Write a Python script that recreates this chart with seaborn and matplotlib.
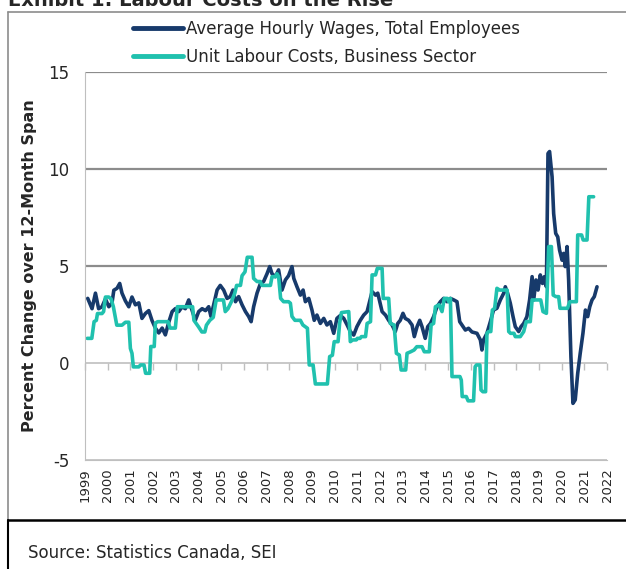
import pandas as pd
import matplotlib.pyplot as plt
import seaborn as sns
from matplotlib.lines import Line2D

# values (decimal year, % change over 12-month span)
wage_years = [
    1999.12, 1999.31, 1999.46, 1999.60, 1999.75, 1999.90, 2000.05, 2000.19, 2000.27, 2000.41,
    2000.53, 2000.63, 2000.78, 2000.93, 2001.07, 2001.22, 2001.37, 2001.51, 2001.66, 2001.81,
    2001.95, 2002.10, 2002.25, 2002.40, 2002.54, 2002.69, 2002.84, 2002.98, 2003.13, 2003.28,
    2003.42, 2003.57, 2003.72, 2003.86, 2004.01, 2004.16, 2004.31, 2004.45, 2004.55, 2004.67,
    2004.82, 2004.96, 2005.11, 2005.26, 2005.40, 2005.52, 2005.63, 2005.77, 2005.92, 2006.07,
    2006.21, 2006.32, 2006.43, 2006.58, 2006.73, 2006.87, 2007.02, 2007.14, 2007.24, 2007.39,
    2007.53, 2007.68, 2007.83, 2007.97, 2008.12, 2008.20, 2008.34, 2008.49, 2008.61, 2008.71,
    2008.86, 2009.00, 2009.10, 2009.22, 2009.37, 2009.52, 2009.66, 2009.81, 2009.96, 2010.10,
    2010.25, 2010.40, 2010.55, 2010.69, 2010.84, 2010.98, 2011.13, 2011.28, 2011.43, 2011.54,
    2011.65, 2011.80, 2011.90, 2011.99, 2012.09, 2012.24, 2012.38, 2012.53, 2012.67, 2012.78,
    2012.89, 2013.01, 2013.11, 2013.26, 2013.41, 2013.51, 2013.63, 2013.75, 2013.85, 2013.99,
    2014.10, 2014.22, 2014.36, 2014.51, 2014.66, 2014.80, 2014.95, 2015.10, 2015.25, 2015.39,
    2015.51, 2015.61, 2015.76, 2015.90, 2016.05, 2016.27, 2016.42, 2016.49, 2016.56, 2016.71,
    2016.86, 2017.00, 2017.15, 2017.30, 2017.45, 2017.52, 2017.62, 2017.74, 2017.86, 2017.96,
    2018.11, 2018.21, 2018.33, 2018.47, 2018.59, 2018.70, 2018.77, 2018.87, 2018.96, 2019.06,
    2019.16, 2019.24, 2019.33, 2019.40, 2019.47, 2019.58, 2019.65, 2019.74, 2019.83, 2019.91,
    2020.02, 2020.09, 2020.16, 2020.24, 2020.31, 2020.41, 2020.50, 2020.60, 2020.71, 2020.82,
    2020.94, 2021.05, 2021.15, 2021.24, 2021.34, 2021.44, 2021.56,
]
wage_values = [
    3.33, 2.80, 3.60, 2.80, 2.90, 3.30, 2.90, 3.10, 3.75, 3.85,
    4.10, 3.60, 3.20, 2.90, 3.40, 3.00, 3.10, 2.30, 2.55, 2.70,
    2.20, 1.80, 1.55, 1.80, 1.45, 2.10, 2.65, 2.80, 2.65, 2.90,
    2.80, 3.25, 2.70, 2.20, 2.65, 2.80, 2.70, 2.90, 2.40, 3.00,
    3.76, 4.00, 3.76, 3.33, 3.42, 3.76, 3.16, 3.42, 3.00, 2.65,
    2.40, 2.13, 2.90, 3.60, 4.10, 4.20, 4.60, 4.97, 4.60, 4.45,
    4.80, 3.76, 4.28, 4.50, 4.97, 4.36, 3.93, 3.50, 3.76, 3.16,
    3.33, 2.73, 2.20, 2.47, 2.04, 2.30, 1.96, 2.13, 1.53, 2.30,
    2.45, 2.30, 1.96, 1.62, 1.44, 1.87, 2.20, 2.47, 2.65, 3.16,
    3.68, 3.50, 3.60, 3.16, 2.65, 2.47, 2.20, 1.96, 1.62, 2.04,
    2.20, 2.56, 2.30, 2.20, 1.96, 1.36, 1.87, 2.20, 1.87, 1.27,
    1.87, 2.04, 2.39, 2.90, 3.16, 3.33, 3.16, 3.33, 3.25, 3.16,
    2.13, 1.96, 1.70, 1.79, 1.60, 1.53, 1.19, 0.67, 1.19, 1.53,
    2.13, 2.73, 2.82, 3.25, 3.60, 3.93, 3.60, 3.08, 2.39, 1.87,
    1.62, 1.87, 2.04, 2.39, 3.25, 4.45, 3.25, 4.28, 3.76, 4.54,
    4.10, 4.45, 3.93, 10.80, 10.90, 9.60, 7.70, 6.68, 6.50, 5.82,
    5.30, 5.65, 4.97, 6.00, 4.28, 0.33, -2.08, -1.90, -0.53, 0.50,
    1.53, 2.73, 2.39, 2.90, 3.25, 3.42, 3.93,
]

ulc_years = [
    1999.10, 1999.30, 1999.40, 1999.50, 1999.55, 1999.75, 1999.82, 1999.90, 2000.05, 2000.15,
    2000.25, 2000.40, 2000.63, 2000.78, 2000.93, 2001.00, 2001.07, 2001.13, 2001.37, 2001.45,
    2001.60, 2001.67, 2001.85, 2001.90, 2002.05, 2002.10, 2002.20, 2002.66, 2002.75, 2002.98,
    2003.07, 2003.74, 2003.80, 2004.00, 2004.15, 2004.28, 2004.35, 2004.50, 2004.65, 2004.78,
    2005.10, 2005.18, 2005.30, 2005.45, 2005.60, 2005.68, 2005.85, 2005.92, 2006.05, 2006.15,
    2006.36, 2006.43, 2006.58, 2006.72, 2006.80, 2007.17, 2007.24, 2007.39, 2007.46, 2007.53,
    2007.62, 2007.75, 2007.97, 2008.05, 2008.12, 2008.25, 2008.49, 2008.60, 2008.80, 2008.88,
    2009.05, 2009.15, 2009.68, 2009.78, 2009.90, 2009.98, 2010.15, 2010.22, 2010.30, 2010.62,
    2010.69, 2010.80, 2010.95, 2011.00, 2011.12, 2011.18, 2011.36, 2011.43, 2011.58, 2011.65,
    2011.80, 2011.88, 2012.09, 2012.14, 2012.38, 2012.45, 2012.62, 2012.72, 2012.85, 2012.93,
    2013.13, 2013.19, 2013.35, 2013.50, 2013.62, 2013.85, 2013.95, 2014.17, 2014.25, 2014.36,
    2014.44, 2014.60, 2014.73, 2014.83, 2014.96, 2015.03, 2015.10, 2015.17, 2015.52, 2015.58,
    2015.62, 2015.80, 2015.88, 2016.12, 2016.19, 2016.25, 2016.40, 2016.45, 2016.53, 2016.65,
    2016.71, 2016.78, 2016.88, 2016.95, 2017.05, 2017.15, 2017.27, 2017.60, 2017.67, 2017.75,
    2017.90, 2017.96, 2018.18, 2018.33, 2018.44, 2018.62, 2018.70, 2019.08, 2019.18, 2019.33,
    2019.43, 2019.55, 2019.63, 2019.75, 2019.87, 2019.93, 2020.26, 2020.36, 2020.65, 2020.71,
    2020.88, 2020.95, 2021.12, 2021.20, 2021.41,
]
ulc_values = [
    1.27, 1.27, 2.13, 2.20, 2.55, 2.55, 2.65, 3.40, 3.40, 3.30,
    2.90, 1.95, 1.95, 2.10, 2.10, 0.75, 0.50, -0.20, -0.20, -0.10,
    -0.10, -0.53, -0.53, 0.85, 0.85, 2.05, 2.13, 2.13, 1.80, 1.80,
    2.90, 2.90, 2.20, 1.87, 1.60, 1.60, 1.95, 2.20, 2.35, 3.25,
    3.25, 2.65, 2.80, 3.16, 3.60, 4.00, 4.00, 4.50, 4.70, 5.45,
    5.45, 4.36, 4.20, 4.20, 4.00, 4.00, 4.45, 4.45, 4.60, 4.45,
    3.33, 3.16, 3.16, 3.08, 2.40, 2.20, 2.20, 1.96, 1.79, -0.10,
    -0.10, -1.08, -1.08, 0.33, 0.40, 1.10, 1.10, 2.06, 2.60, 2.65,
    1.10, 1.19, 1.19, 1.27, 1.27, 1.36, 1.36, 2.04, 2.13, 4.54,
    4.54, 4.88, 4.88, 3.33, 3.33, 2.04, 1.96, 0.50, 0.41, -0.36,
    -0.36, 0.50, 0.58, 0.67, 0.84, 0.84, 0.58, 0.58, 1.96, 2.04,
    2.90, 3.00, 2.65, 3.33, 3.33, 3.16, 3.33, -0.70, -0.70, -0.88,
    -1.73, -1.73, -1.95, -1.95, -0.19, -0.10, -0.10, -1.39, -1.48, -1.48,
    1.53, 1.62, 1.62, 2.73, 2.82, 3.85, 3.76, 3.76, 1.62, 1.53,
    1.53, 1.36, 1.36, 1.62, 2.13, 2.13, 3.25, 3.25, 2.65, 2.56,
    6.00, 6.00, 3.50, 3.42, 3.42, 2.82, 2.82, 3.16, 3.16, 6.60,
    6.60, 6.34, 6.34, 8.57, 8.57,
]

series_names = ["Average Hourly Wages, Total Employees", "Unit Labour Costs, Business Sector"]
series_colors = ["#173a6b", "#20c1ae"]
year_labels = [str(y) for y in range(1999, 2023)]

df = pd.concat([
    pd.DataFrame({"year": wage_years, "value": wage_values, "series": series_names[0]}),
    pd.DataFrame({"year": ulc_years, "value": ulc_values, "series": series_names[1]}),
])

sns.set_style("white")
plt.rcParams["font.family"] = ["DejaVu Sans"]

fig = plt.figure(figsize=(6.26, 5.69), dpi=100)
W, H = 626, 569
ax = fig.add_axes([85 / W, 1 - 460 / H, (607 - 85) / W, (460 - 72) / H])

sns.lineplot(data=df, x="year", y="value", hue="series", hue_order=series_names,
             palette=series_colors, linewidth=2.6, estimator=None, ax=ax)

ax.set_xlim(1999, 2022)
ax.set_ylim(-5, 15)
ax.set_yticks([-5, 0, 5, 10, 15])
ax.set_yticklabels(["-5", "0", "5", "10", "15"], fontsize=12)
ax.set_xticks(range(1999, 2023))
ax.set_xticklabels(year_labels, rotation=90, fontsize=9.5)
ax.tick_params(axis="x", length=0, pad=6)
ax.tick_params(axis="y", length=5, width=1, color="#bfbfbf", direction="out", pad=6)
ax.set_xlabel("")
ax.set_ylabel("Percent Change over 12-Month Span", fontsize=11.5, fontweight="bold", labelpad=8)

# grid: dark at 5/10/15, light at 0 and -5
ax.grid(axis="y", linewidth=1.4)
for val, gl in zip([-5, 0, 5, 10, 15], ax.get_ygridlines()):
    gl.set_color("#bfbfbf" if val <= 0 else "#8c8c8c")
    gl.set_linewidth(1.2 if val <= 0 else 1.6)

for side in ["top", "right"]:
    ax.spines[side].set_visible(False)
ax.spines["left"].set_color("#bfbfbf")
ax.spines["bottom"].set_color("#bfbfbf")

# tick marks along zero line
sec = ax.secondary_xaxis(0.25)
sec.set_xticks(range(1999, 2023))
sec.tick_params(axis="x", length=5, width=1, color="#bfbfbf", labelbottom=False, direction="out")
sec.spines["bottom"].set_visible(False)

leg = ax.legend(loc="upper left", bbox_to_anchor=(133 / W, 1 - 20 / H), bbox_transform=fig.transFigure,
                frameon=False, fontsize=12, handlelength=3.0, handletextpad=0.2,
                borderpad=0, borderaxespad=0, labelspacing=0.6)
for line in leg.get_lines():
    line.set_linewidth(3.5)

# frame and captions
fig.add_artist(Line2D([8 / W, 1], [1 - 12 / H, 1 - 12 / H], color="#8c8c8c", lw=1.2))
fig.add_artist(Line2D([8 / W, 8 / W], [1 - 12 / H, 1 - 520 / H], color="#8c8c8c", lw=1.2))
fig.add_artist(Line2D([8 / W, 8 / W], [1 - 520 / H, 0], color="black", lw=1.5))
fig.add_artist(Line2D([8 / W, 1], [1 - 520 / H, 1 - 520 / H], color="black", lw=1.8))
fig.text(8 / W, 1 - 6 / H, "Exhibit 1: Labour Costs on the Rise", fontsize=14, fontweight="bold",
         va="baseline", ha="left")
fig.text(28 / W, 1 - 558 / H, "Source: Statistics Canada, SEI", fontsize=12, va="baseline", ha="left")

plt.savefig("out.png", dpi=100)
